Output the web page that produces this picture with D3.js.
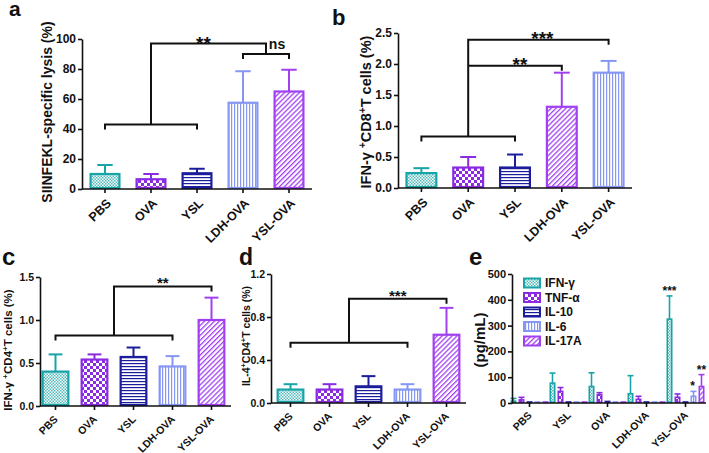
<!DOCTYPE html>
<html><head><meta charset="utf-8">
<script src="https://cdn.jsdelivr.net/npm/d3@7"></script>
<style>
body{margin:0;background:#fff}
svg{display:block}
text{font-family:Arial,"Liberation Sans",sans-serif;font-weight:bold;fill:#111}
</style>
</head><body>
<svg id="chart" width="709" height="453"></svg>
<script>
// ---------------- DATA ----------------
const groups = ["PBS", "OVA", "YSL", "LDH-OVA", "YSL-OVA"];

const lysisMean = [10, 6.5, 10.5, 57.5, 65];
const lysisSD   = [6, 3.5, 3, 21, 14.5];
const lysisTicks = [0, 20, 40, 60, 80, 100];

const cd8Mean = [0.24, 0.33, 0.33, 1.31, 1.86];
const cd8SD   = [0.08, 0.17, 0.21, 0.55, 0.19];
const cd8Ticks = [0, 0.5, 1.0, 1.5, 2.0, 2.5];

const cd4IfnMean = [0.40, 0.54, 0.57, 0.46, 1.00];
const cd4IfnSD   = [0.20, 0.06, 0.11, 0.12, 0.26];
const cd4IfnTicks = [0, 0.5, 1.0, 1.5];

const il4Mean = [0.125, 0.125, 0.155, 0.125, 0.635];
const il4SD   = [0.05, 0.05, 0.095, 0.05, 0.25];
const il4Ticks = [0, 0.4, 0.8, 1.2];

const cytoGroups = ["PBS", "YSL", "OVA", "LDH-OVA", "YSL-OVA"];
const cytokines  = ["IFN-γ", "TNF-α", "IL-10", "IL-6", "IL-17A"];
const ifnMean  = [7, 77, 64, 36, 325];
const ifnSD    = [11, 39, 53, 70, 90];
const tnfMean  = [12, 45, 32, 14, 22];
const tnfSD    = [10, 15, 8, 12, 13];
const il10Mean = [0, 0, 6, 0, 0];
const il10SD   = [0, 0, 0, 0, 0];
const il6Mean  = [0, 0, 0, 0, 26];
const il6SD    = [0, 0, 0, 0, 19];
const il17Mean = [0, 0, 0, 0, 64];
const il17SD   = [0, 0, 0, 0, 46];
const cytoTicks = [0, 100, 200, 300, 400, 500];

// significance brackets (data units)
const sigA = {low: [0, 2, 43], top: 97, ns: [3, 4, 90]};
const sigB = {low: [0, 2, 0.83], top: 2.39, topTo: 4, mid: 1.97, midTo: 3};
const sigC = {low: [0, 3, 0.82], top: 1.39, topTo: 4};
const sigD = {low: [0, 3, 0.56], top: 0.97, topTo: 4};

// ---------------- STYLE ----------------
const C = {teal: "#18a4a7", purple: "#8a2be2", navy: "#1b1d9c", light: "#8696f3", violet: "#a140f0"};
const styleStd = [["dots", "teal"], ["check", "purple"], ["hstripe", "navy"], ["vstripe", "light"], ["diag", "violet"]];
const styleB   = [["dots", "teal"], ["check", "purple"], ["hstripe", "navy"], ["diag", "violet"], ["vstripe", "light"]];

const svg = d3.select("#chart");
const defs = svg.append("defs");

function makePattern(type, col) {
  const id = "p-" + type + "-" + col;
  if (!defs.select("#" + id).empty()) return id;
  const c = C[col];
  let p;
  if (type === "dots") {
    p = defs.append("pattern").attr("id", id).attr("patternUnits", "userSpaceOnUse").attr("width", 3).attr("height", 3);
    p.append("rect").attr("width", 3).attr("height", 3).attr("fill", "#fff");
    p.append("rect").attr("width", 1.5).attr("height", 1.5).attr("fill", c).attr("opacity", 0.75);
    p.append("rect").attr("x", 1.5).attr("y", 1.5).attr("width", 1.5).attr("height", 1.5).attr("fill", c).attr("opacity", 0.75);
  } else if (type === "check") {
    p = defs.append("pattern").attr("id", id).attr("patternUnits", "userSpaceOnUse").attr("width", 6).attr("height", 6);
    p.append("rect").attr("width", 6).attr("height", 6).attr("fill", "#fff");
    p.append("rect").attr("width", 3).attr("height", 3).attr("fill", c);
    p.append("rect").attr("x", 3).attr("y", 3).attr("width", 3).attr("height", 3).attr("fill", c);
  } else if (type === "hstripe") {
    p = defs.append("pattern").attr("id", id).attr("patternUnits", "userSpaceOnUse").attr("width", 3).attr("height", 3);
    p.append("rect").attr("width", 3).attr("height", 3).attr("fill", "#fff");
    p.append("rect").attr("width", 3).attr("height", 1.2).attr("fill", c);
  } else if (type === "vstripe") {
    p = defs.append("pattern").attr("id", id).attr("patternUnits", "userSpaceOnUse").attr("width", 3).attr("height", 3);
    p.append("rect").attr("width", 3).attr("height", 3).attr("fill", "#fff");
    p.append("rect").attr("width", 1.2).attr("height", 3).attr("fill", c);
  } else {
    p = defs.append("pattern").attr("id", id).attr("patternUnits", "userSpaceOnUse").attr("width", 3.5).attr("height", 3.5)
      .attr("patternTransform", "rotate(45)");
    p.append("rect").attr("width", 3.5).attr("height", 3.5).attr("fill", "#fff");
    p.append("rect").attr("width", 1.3).attr("height", 3.5).attr("fill", c);
  }
  return id;
}

function drawAxes(cfg, x, y) {
  const g = svg.append("g");
  const ya = d3.axisLeft(y).tickValues(cfg.ticks).tickFormat(cfg.fmt).tickSize(4).tickSizeOuter(0).tickPadding(2);
  const gy = g.append("g").attr("transform", `translate(${cfg.x0},0)`).call(ya);
  gy.select(".domain").attr("stroke", "#111").attr("stroke-width", 1.6);
  gy.selectAll(".tick line").attr("stroke", "#111").attr("stroke-width", 1.6);
  gy.selectAll(".tick text").style("font-size", cfg.tickFont + "px").attr("fill", "#111");
  const xa = d3.axisBottom(x).tickSize(4).tickSizeOuter(0).tickFormat("");
  const gx = g.append("g").attr("transform", `translate(0,${cfg.y0})`).call(xa);
  gx.select(".domain").remove();
  gx.append("line").attr("x1", cfg.x0).attr("x2", cfg.xEnd).attr("stroke", "#111").attr("stroke-width", 1.6);
  gx.selectAll(".tick line").attr("stroke", "#111").attr("stroke-width", 1.6);
  // rotated category labels
  x.domain().forEach(d => {
    const cx = x(d) + x.bandwidth() / 2;
    g.append("text").attr("text-anchor", "end")
      .attr("transform", `translate(${cx + cfg.lx},${cfg.y0 + cfg.ly}) rotate(-45)`)
      .style("font-size", cfg.xFont + "px").text(d);
  });
}

function drawBars(cfg, means, sds, styles, names) {
  const x = d3.scaleBand().domain(names).range([cfg.bx0, cfg.bx1]).padding(0);
  const y = d3.scaleLinear().domain(cfg.domain).range([cfg.y0, cfg.y1]);
  const bw = x.bandwidth() * cfg.frac;
  const g = svg.append("g");
  names.forEach((n, i) => {
    const cx = x(n) + x.bandwidth() / 2;
    const [type, col] = styles[i];
    const pid = makePattern(type, col);
    g.append("line").attr("x1", cx).attr("x2", cx).attr("y1", y(means[i])).attr("y2", y(means[i] + sds[i]))
      .attr("stroke", C[col]).attr("stroke-width", 2);
    g.append("line").attr("x1", cx - bw / 4).attr("x2", cx + bw / 4).attr("y1", y(means[i] + sds[i])).attr("y2", y(means[i] + sds[i]))
      .attr("stroke", C[col]).attr("stroke-width", 2);
    g.append("rect").attr("x", cx - bw / 2 + 1).attr("y", y(means[i]))
      .attr("width", bw - 2).attr("height", y(0) - y(means[i]) - 1)
      .attr("fill", `url(#${pid})`).attr("stroke", C[col]).attr("stroke-width", 2.2);
  });
  drawAxes(cfg, x, y);
  return {x, y, c: i => x(names[i]) + x.bandwidth() / 2};
}

function path(pts) {
  svg.append("path").attr("d", d3.line()(pts)).attr("fill", "none").attr("stroke", "#111").attr("stroke-width", 2);
}
function label(t, x, y, size) {
  svg.append("text").attr("x", x).attr("y", y).attr("text-anchor", "middle").style("font-size", size + "px").text(t);
}
function yLabel(parts, x, y, size) {
  const t = svg.append("text").attr("transform", `translate(${x},${y}) rotate(-90)`).attr("text-anchor", "middle")
    .style("font-size", size + "px");
  parts.forEach(p => {
    const s = t.append("tspan").text(p[0]);
    if (p[1]) s.attr("baseline-shift", "super").style("font-size", (size * 0.7) + "px");
  });
}
function panelLetter(t, x, y, size) {
  svg.append("text").attr("x", x).attr("y", y).style("font-size", size + "px").text(t);
}

const LEG = 5;

// ---------------- PANEL A ----------------
{
  const cfg = {x0: 82, xEnd: 312, bx0: 82, bx1: 312, y0: 189, y1: 39, domain: [0, 100], ticks: lysisTicks, fmt: d3.format("d"),
    tickFont: 12, xFont: 12.5, lx: 7, ly: 15, frac: 0.67};
  const P = drawBars(cfg, lysisMean, lysisSD, styleStd, groups);
  const y = P.y;
  const l0 = P.c(sigA.low[0]), l1 = P.c(sigA.low[1]);
  const cx = (l0 + l1) / 2;
  const r0 = P.c(sigA.ns[0]), r1 = P.c(sigA.ns[1]);
  const rx = (r0 + r1) / 2;
  path([[l0, y(sigA.low[2]) + LEG], [l0, y(sigA.low[2])], [l1, y(sigA.low[2])], [l1, y(sigA.low[2]) + LEG]]);
  path([[cx, y(sigA.low[2])], [cx, y(sigA.top)], [rx, y(sigA.top)], [rx, y(sigA.ns[2])]]);
  path([[r0, y(sigA.ns[2]) + LEG], [r0, y(sigA.ns[2])], [r1, y(sigA.ns[2])], [r1, y(sigA.ns[2]) + LEG]]);
  label("**", (cx + rx) / 2 - 5, y(sigA.top) + 6, 19);
  label("ns", rx + 11, y(sigA.ns[2]) - 5, 14);
  yLabel([["SIINFEKL-specific lysis (%)"]], 52, 112, 14);
  panelLetter("a", 9, 16, 21);
}

// ---------------- PANEL B ----------------
{
  const cfg = {x0: 398, xEnd: 632, bx0: 398, bx1: 632, y0: 188, y1: 33, domain: [0, 2.5], ticks: cd8Ticks, fmt: d3.format(".1f"),
    tickFont: 12, xFont: 12.5, lx: 7, ly: 15, frac: 0.68};
  const P = drawBars(cfg, cd8Mean, cd8SD, styleB, groups);
  const y = P.y;
  const l0 = P.c(sigB.low[0]), l1 = P.c(sigB.low[1]);
  const cx = (l0 + l1) / 2;
  const tx = P.c(sigB.topTo), mx = P.c(sigB.midTo);
  path([[l0, y(sigB.low[2]) + LEG], [l0, y(sigB.low[2])], [l1, y(sigB.low[2])], [l1, y(sigB.low[2]) + LEG]]);
  path([[cx, y(sigB.low[2])], [cx, y(sigB.top)], [tx, y(sigB.top)], [tx, y(sigB.top) + LEG]]);
  path([[cx, y(sigB.mid)], [mx, y(sigB.mid)], [mx, y(sigB.mid) + LEG]]);
  label("***", (cx + tx) / 2 + 4, y(sigB.top) + 5, 19);
  label("**", (cx + mx) / 2 + 5, y(sigB.mid) + 5, 19);
  yLabel([["IFN-γ "], ["+", 1], ["CD8"], ["+", 1], ["T cells (%)"]], 371, 112, 14.5);
  panelLetter("b", 332, 25, 22);
}

// ---------------- PANEL C ----------------
{
  const cfg = {x0: 40, xEnd: 231, bx0: 36, bx1: 231, y0: 406, y1: 277, domain: [0, 1.5], ticks: cd4IfnTicks, fmt: d3.format(".1f"),
    tickFont: 10.5, xFont: 10.5, lx: 3, ly: 14, frac: 0.71};
  const P = drawBars(cfg, cd4IfnMean, cd4IfnSD, styleStd, groups);
  const y = P.y;
  const l0 = P.c(sigC.low[0]), l1 = P.c(sigC.low[1]);
  const cx = (l0 + l1) / 2;
  const tx = P.c(sigC.topTo);
  path([[l0, y(sigC.low[2]) + LEG], [l0, y(sigC.low[2])], [l1, y(sigC.low[2])], [l1, y(sigC.low[2]) + LEG]]);
  path([[cx, y(sigC.low[2])], [cx, y(sigC.top)], [tx, y(sigC.top)], [tx, y(sigC.top) + LEG]]);
  label("**", (cx + tx) / 2, y(sigC.top) + 2, 15);
  yLabel([["IFN-γ "], ["+", 1], ["CD4"], ["+", 1], ["T cells (%)"]], 12, 350, 11.5);
  panelLetter("c", 2, 265, 24);
}

// ---------------- PANEL D ----------------
{
  const cfg = {x0: 271, xEnd: 466, bx0: 271, bx1: 466, y0: 403, y1: 274, domain: [0, 1.2], ticks: il4Ticks, fmt: d3.format(".1f"),
    tickFont: 10.5, xFont: 10.5, lx: 3, ly: 14, frac: 0.71};
  const P = drawBars(cfg, il4Mean, il4SD, styleStd, groups);
  const y = P.y;
  const l0 = P.c(sigD.low[0]), l1 = P.c(sigD.low[1]);
  const cx = (l0 + l1) / 2;
  const tx = P.c(sigD.topTo);
  path([[l0, y(sigD.low[2]) + LEG], [l0, y(sigD.low[2])], [l1, y(sigD.low[2])], [l1, y(sigD.low[2]) + LEG]]);
  path([[cx, y(sigD.low[2])], [cx, y(sigD.top)], [tx, y(sigD.top)], [tx, y(sigD.top) + LEG]]);
  label("***", (cx + tx) / 2, y(sigD.top) + 2, 15);
  yLabel([["IL-4"], ["+", 1], ["CD4"], ["+", 1], ["T cells (%)"]], 250, 336, 10.5);
  panelLetter("d", 239, 265, 23);
}

// ---------------- PANEL E ----------------
{
  const cfg = {x0: 512, xEnd: 706, y0: 403, y1: 274, domain: [0, 500], ticks: cytoTicks, fmt: d3.format("d"),
    tickFont: 11, xFont: 10.5, lx: 3, ly: 13};
  const means = [ifnMean, tnfMean, il10Mean, il6Mean, il17Mean];
  const sds = [ifnSD, tnfSD, il10SD, il6SD, il17SD];
  const x = d3.scaleBand().domain(cytoGroups).range([510, 705]).padding(0);
  const y = d3.scaleLinear().domain(cfg.domain).range([cfg.y0, cfg.y1]);
  const xs = d3.scaleBand().domain(cytokines).range([0.5, x.bandwidth() - 0.5]).paddingInner(0.25);
  const bw = xs.bandwidth();
  const g = svg.append("g");
  cytoGroups.forEach((grp, gi) => {
    cytokines.forEach((ck, ci) => {
      const [type, col] = styleStd[ci];
      const pid = makePattern(type, col);
      const bx = x(grp) + xs(ck);
      const cx = bx + bw / 2;
      const m = means[ci][gi], s = sds[ci][gi];
      if (s > 0) {
        g.append("line").attr("x1", cx).attr("x2", cx).attr("y1", y(m)).attr("y2", y(m + s)).attr("stroke", C[col]).attr("stroke-width", 1.6);
        g.append("line").attr("x1", cx - bw / 2).attr("x2", cx + bw / 2).attr("y1", y(m + s)).attr("y2", y(m + s)).attr("stroke", C[col]).attr("stroke-width", 1.6);
      }
      g.append("rect").attr("x", bx + 0.8).attr("y", y(m) - (m === 0 ? 1 : 0))
        .attr("width", bw - 1.6).attr("height", Math.max(0.5, y(0) - y(m) - 0.8))
        .attr("fill", `url(#${pid})`).attr("stroke", C[col]).attr("stroke-width", 1.6);
    });
  });
  drawAxes(cfg, x, y);
  const cxOf = (gi, ci) => x(cytoGroups[gi]) + xs(cytokines[ci]) + bw / 2;
  label("***", cxOf(4, 0), y(ifnMean[4] + ifnSD[4]) - 1, 12);
  label("*", cxOf(4, 3) - 1, y(il6Mean[4] + il6SD[4]) - 1, 12);
  label("**", cxOf(4, 4), y(il17Mean[4] + il17SD[4]) - 1, 12);
  cytokines.forEach((ck, ci) => {
    const [type, col] = styleStd[ci];
    const pid = makePattern(type, col);
    const ly = 283 + ci * 14.5;
    svg.append("rect").attr("x", 524).attr("y", ly - 4.5).attr("width", 16).attr("height", 9)
      .attr("fill", `url(#${pid})`).attr("stroke", C[col]).attr("stroke-width", 2);
    svg.append("text").attr("x", 545).attr("y", ly + 4).style("font-size", "12px").text(ck);
  });
  yLabel([["(pg/mL)"]], 485, 340, 15);
  panelLetter("e", 469, 265, 24);
}
</script>
</body></html>
